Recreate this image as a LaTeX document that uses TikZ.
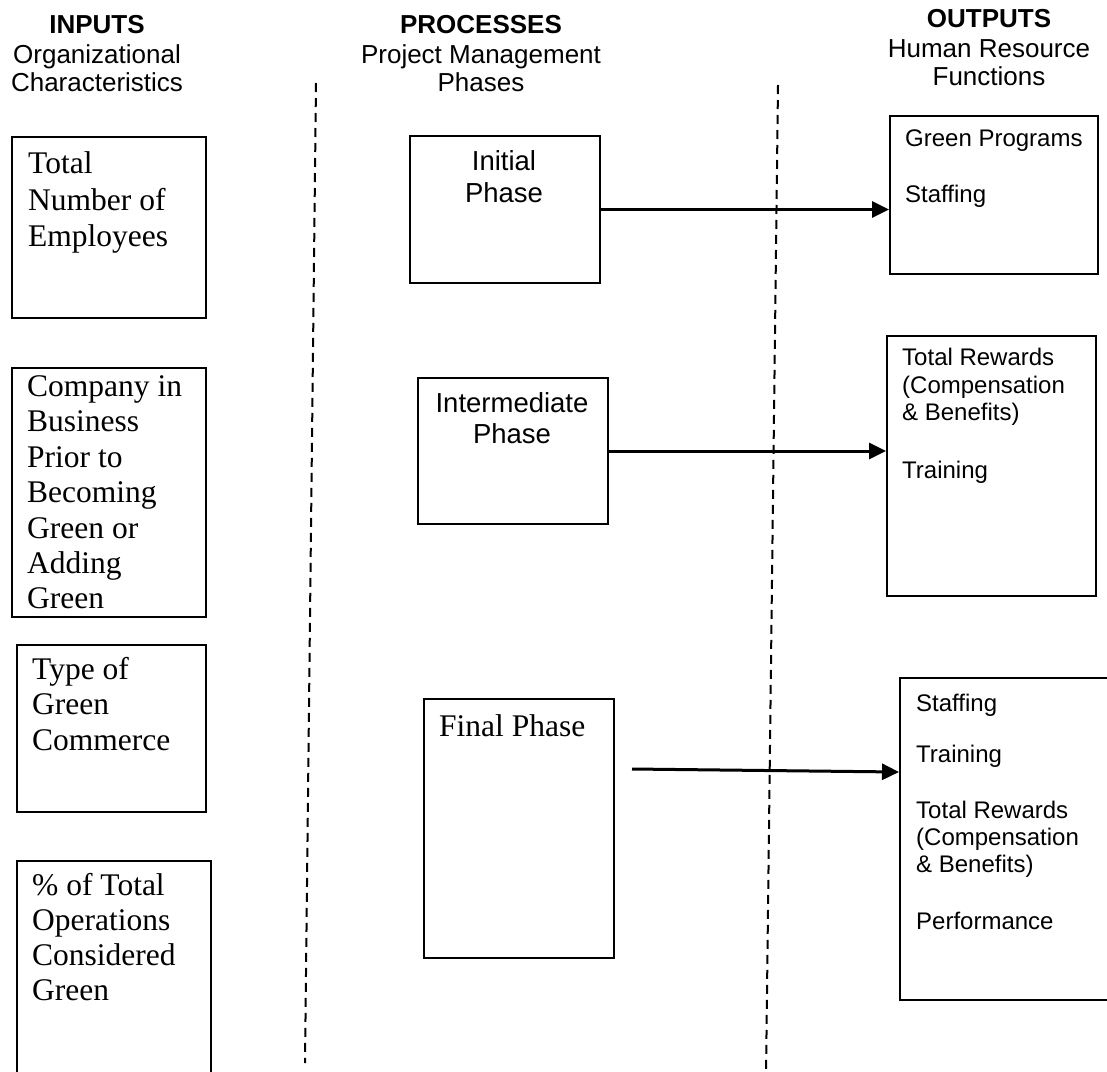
\documentclass[tikz,border=0pt]{standalone}
\usepackage{fontspec}
\setmainfont{Liberation Serif}
\setsansfont{Liberation Sans}
\usetikzlibrary{arrows.meta,calc}
\begin{document}
\begin{tikzpicture}[x=1pt,y=-1pt,
  box/.style={draw,line width=2pt,rectangle,inner sep=0pt,anchor=north west},
  hd/.style={font=\sffamily\bfseries\fontsize{26}{29}\selectfont,anchor=base,inner sep=0pt},
  sub/.style={font=\sffamily\fontsize{26}{29}\selectfont,anchor=base,inner sep=0pt},
  ser/.style={font=\rmfamily\fontsize{31.5}{36}\selectfont,anchor=base west,inner sep=0pt},
  ph/.style={font=\sffamily\fontsize{27.5}{32}\selectfont,anchor=base,inner sep=0pt},
  hr/.style={font=\sffamily\fontsize{24}{28}\selectfont,anchor=base west,inner sep=0pt},
  arr/.style={line width=3pt,-{Triangle[length=17pt,width=16pt]}},
  sep/.style={line width=2pt,dash pattern=on 9pt off 6pt}]
\path[fill=white,use as bounding box] (0,0) rectangle (1107,1071);

% headers
\node[hd]  (hin)  at (97,33) {INPUTS};
\node[sub] (hin2) at (97,63) {Organizational};
\node[sub] (hin3) at (97,91) {Characteristics};
\node[hd]  (hpr)  at (481,33) {PROCESSES};
\node[sub] (hpr2) at (481,63) {Project Management};
\node[sub] (hpr3) at (481,91) {Phases};
\node[hd]  (hout)  at (989,27) {OUTPUTS};
\node[sub] (hout2) at (989,57) {Human Resource};
\node[sub] (hout3) at (989,85) {Functions};

% separators
\coordinate (d1t) at (316,83);
\coordinate (d1b) at (305,1063);
\coordinate (d2t) at (778,85);
\coordinate (d2b) at (766,1075);
\draw[sep] (d1t) -- (d1b);
\draw[sep] (d2t) -- (d2b);

% input boxes
\node[box,minimum width=194pt,minimum height=181pt] (i1) at (11,136) {};
\node[box,minimum width=194pt,minimum height=249pt] (i2) at (11,367) {};
\node[box,minimum width=189pt,minimum height=167pt] (i3) at (16,644) {};
\node[box,minimum width=194pt,minimum height=260pt] (i4) at (16,860) {};

\node[ser] (i1a) at (28,173) {Total};
\node[ser] (i1b) at (28,210) {Number of};
\node[ser] (i1c) at (28,246) {Employees};

\node[ser] (i2a) at (27,396) {Company in};
\node[ser] (i2b) at (27,431.5) {Business};
\node[ser] (i2c) at (27,467) {Prior to};
\node[ser] (i2d) at (27,502.5) {Becoming};
\node[ser] (i2e) at (27,538) {Green or};
\node[ser] (i2f) at (27,573.5) {Adding};
\node[ser] (i2g) at (27,608) {Green};

\node[ser] (i3a) at (32,679) {Type of};
\node[ser] (i3b) at (32,714.5) {Green};
\node[ser] (i3c) at (32,750) {Commerce};

\node[ser] (i4a) at (32,895) {\% of Total};
\node[ser] (i4b) at (32,930) {Operations};
\node[ser] (i4c) at (32,965) {Considered};
\node[ser] (i4d) at (32,1000) {Green};

% process boxes
\node[box,minimum width=190pt,minimum height=147pt] (p1) at (409,135) {};
\node[box,minimum width=190pt,minimum height=146pt] (p2) at (417,377) {};
\node[box,minimum width=190pt,minimum height=259pt] (p3) at (423,698) {};

\node[ph] (p1a) at (504,170) {Initial};
\node[ph] (p1b) at (504,202) {Phase};
\node[ph] (p2a) at (512,412) {Intermediate};
\node[ph] (p2b) at (512,443) {Phase};
\node[ser] (p3a) at (439,736) {Final Phase};

% output boxes
\node[box,minimum width=208pt,minimum height=158pt] (o1) at (889,115) {};
\node[box,minimum width=209pt,minimum height=260pt] (o2) at (886,335) {};
\node[box,minimum width=215pt,minimum height=322pt] (o3) at (899,677) {};

\node[hr] (o1a) at (905,146) {Green Programs};
\node[hr] (o1b) at (905,202) {Staffing};

\node[hr] (o2a) at (902,365) {Total Rewards};
\node[hr] (o2b) at (902,393) {(Compensation};
\node[hr] (o2c) at (902,420) {\& Benefits)};
\node[hr] (o2d) at (902,478) {Training};

\node[hr] (o3a) at (916,711) {Staffing};
\node[hr] (o3b) at (916,762) {Training};
\node[hr] (o3c) at (916,818) {Total Rewards};
\node[hr] (o3d) at (916,845) {(Compensation};
\node[hr] (o3e) at (916,872) {\& Benefits)};
\node[hr] (o3f) at (916,929) {Performance};

% arrows
\draw[arr] (p1.east) -- (p1.east -| o1.west);
\draw[arr] (p2.east) -- (p2.east -| o2.west);
\coordinate (a3s) at (632,769);
\draw[arr] (a3s) -- ($(o3.north west)+(0,95)$);
\end{tikzpicture}
\end{document}
